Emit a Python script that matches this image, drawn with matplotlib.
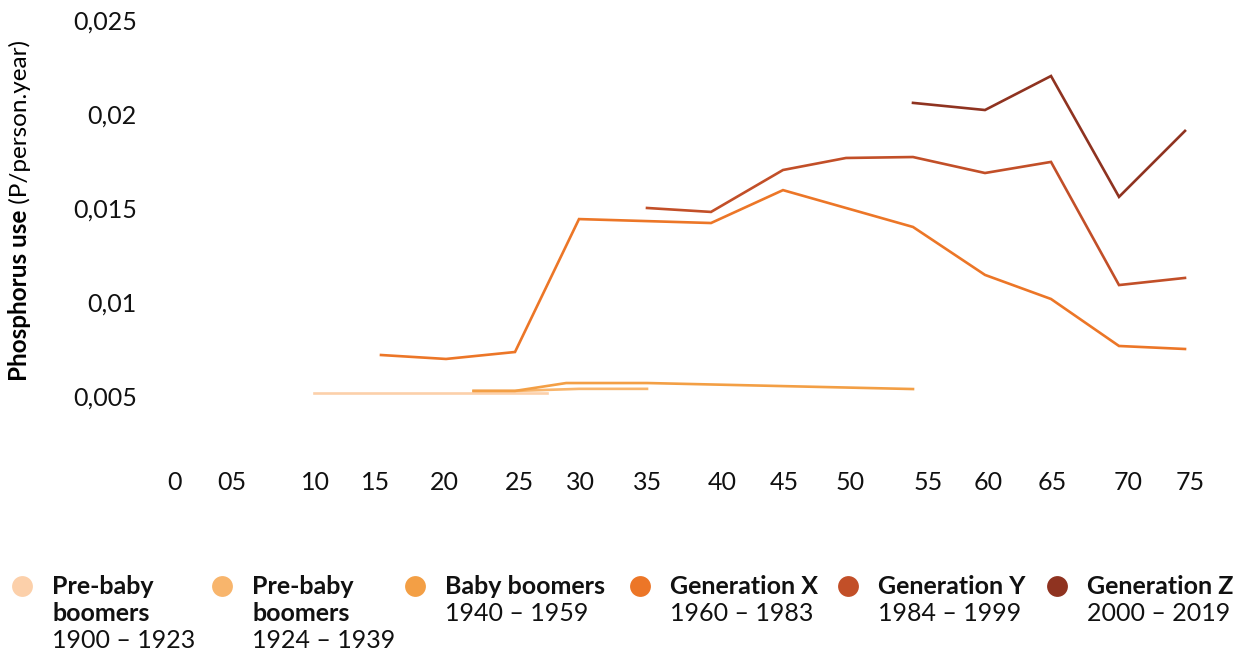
import numpy as np
import matplotlib
matplotlib.use("Agg")
import matplotlib.pyplot as plt

plt.rcParams['font.family'] = ['Lato', 'DejaVu Sans']

# age axis (non-uniform spacing, as in the original)
knot_age = [0, 5, 10, 15, 20, 25, 30, 35, 40, 45, 50, 55, 60, 65, 70, 75]
knot_u = [174, 231, 314, 381, 446, 515, 579, 647, 711, 783, 846, 913, 985, 1051, 1119, 1185]
tick_labels = ['0', '05', '10', '15', '20', '25', '30', '35', '40', '45', '50',
               '55', '60', '65', '70', '75']
label_u = [174, 232, 315, 376, 444, 519, 580, 648, 722, 784, 850, 928, 988, 1052, 1128, 1190]

y_ticks = [0.005, 0.01, 0.015, 0.02, 0.025]
y_tick_labels = ['0,005', '0,01', '0,015', '0,02', '0,025']

# series: ages and phosphorus use (P/person.year)
pre1_age = [10, 15, 20, 25, 27.5]
pre1_val = [0.00516, 0.00516, 0.00516, 0.00516, 0.00516]

pre2_age = [22, 25, 30, 35]
pre2_val = [0.00527, 0.00527, 0.00538, 0.00538]

boom_age = [22, 25, 29, 35, 55]
boom_val = [0.00527, 0.00527, 0.00569, 0.00569, 0.00537]

genx_age = [15, 20, 25, 30, 40, 45, 55, 60, 65, 70, 75]
genx_val = [0.00718, 0.00697, 0.00734, 0.01441, 0.0142, 0.01595, 0.01399,
            0.01144, 0.01016, 0.00766, 0.0075]

geny_age = [35, 40, 45, 50, 55, 60, 65, 70, 75]
geny_val = [0.0150, 0.01479, 0.01702, 0.01766, 0.01771, 0.01686, 0.01745,
            0.0109, 0.01128]

genz_age = [55, 60, 65, 70, 75]
genz_val = [0.02059, 0.02021, 0.02202, 0.01559, 0.0191]

names = [['Pre-baby', 'boomers'], ['Pre-baby', 'boomers'], ['Baby boomers'],
         ['Generation X'], ['Generation Y'], ['Generation Z']]
years = ['1900 – 1923', '1924 – 1939', '1940 – 1959', '1960 – 1983',
         '1984 – 1999', '2000 – 2019']
colors = ['#FCD0AA', '#F8B56C', '#F39F45', '#EC7627', '#C24F28', '#8F3320']

series = [(pre1_age, pre1_val), (pre2_age, pre2_val), (boom_age, boom_val),
          (genx_age, genx_val), (geny_age, geny_val), (genz_age, genz_val)]

fig = plt.figure(figsize=(12.46, 6.55), dpi=100)
ax = fig.add_axes([150 / 1246, 190 / 655, (1215 - 150) / 1246, 455 / 655])

for (a, v), c in zip(series, colors):
    ax.plot(np.interp(a, knot_age, knot_u), v, color=c, lw=1.9,
            solid_joinstyle='miter')

ax.set_xlim(150, 1215)
ax.set_ylim(0.00133, 0.02553)
ax.set_xticks(label_u, tick_labels)
ax.set_yticks(y_ticks, y_tick_labels)
ax.tick_params(length=0, labelsize=18, colors='#111111')
ax.tick_params(axis='y', pad=9.5)
ax.tick_params(axis='x', pad=4)
for s in ax.spines.values():
    s.set_visible(False)

t1 = fig.text(20 / 1246, 1 - 381 / 655, 'Phosphorus use', rotation=90,
              ha='center', va='bottom', fontsize=17.5, fontweight='bold')
ax.annotate(' (P/person.year)', xy=(0.5, 1.0), xycoords=t1, rotation=90,
            ha='center', va='bottom', fontsize=17.5)

# legend
lax = fig.add_axes([0, 0, 1, 120 / 655])
lax.set_xlim(0, 1246)
lax.set_ylim(655, 535)
lax.axis('off')
dot_x = [22, 222, 415, 640, 848, 1057]
for i in range(len(names)):
    x0 = dot_x[i]
    lax.plot(x0, 586, 'o', ms=15, color=colors[i], mec='none')
    y = 586
    for line in names[i]:
        lax.text(x0 + 30, y, line, fontsize=18, fontweight='bold',
                 va='center', ha='left', color='#111111')
        y += 27.5
    lax.text(x0 + 30, y, years[i], fontsize=18, va='center', ha='left',
             color='#111111')

fig.savefig('out.png', dpi=100)
